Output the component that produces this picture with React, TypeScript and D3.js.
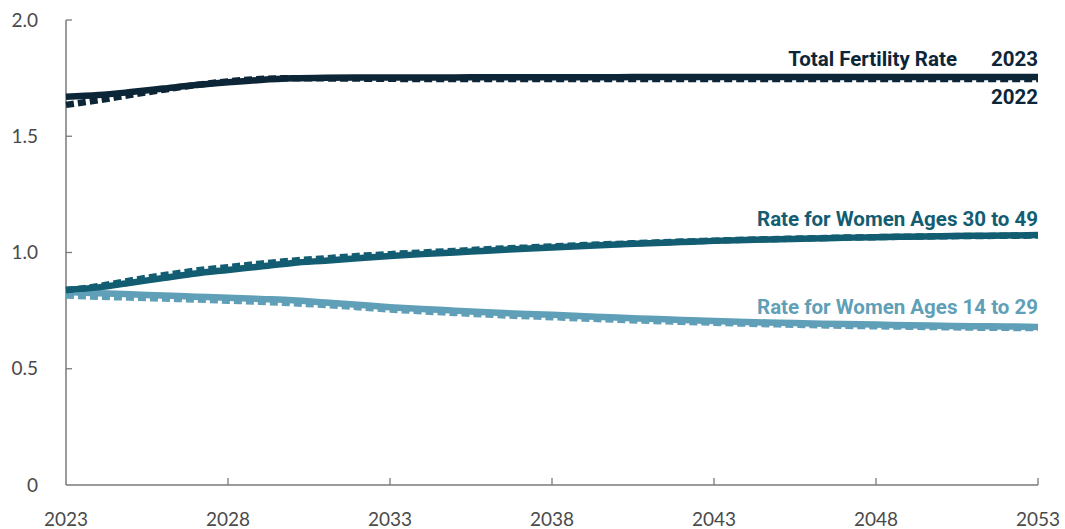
import React from "react";
import * as d3 from "d3";

const years: number[] = d3.range(2023, 2054);

const tfr2023: number[] = [1.67,1.677,1.69,1.705,1.72,1.732,1.742,1.749,1.752,1.753,1.753,1.753,1.753,1.754,1.754,1.754,1.754,1.754,1.755,1.755,1.755,1.755,1.755,1.755,1.755,1.755,1.755,1.755,1.755,1.755,1.755];
const tfr2022: number[] = [1.635,1.655,1.678,1.7,1.72,1.736,1.746,1.75,1.749,1.748,1.747,1.746,1.746,1.746,1.746,1.746,1.746,1.746,1.746,1.746,1.746,1.746,1.746,1.746,1.746,1.746,1.746,1.746,1.746,1.746,1.746];
const older2023: number[] = [0.84,0.85,0.87,0.89,0.91,0.925,0.94,0.955,0.965,0.975,0.985,0.993,1.0,1.008,1.015,1.022,1.028,1.034,1.04,1.045,1.05,1.054,1.057,1.06,1.063,1.066,1.068,1.07,1.072,1.073,1.075];
const older2022: number[] = [0.838,0.855,0.88,0.902,0.922,0.937,0.952,0.965,0.975,0.985,0.993,1.0,1.007,1.014,1.02,1.026,1.032,1.037,1.042,1.047,1.051,1.055,1.058,1.061,1.064,1.066,1.068,1.07,1.071,1.072,1.073];
const younger2023: number[] = [0.83,0.825,0.82,0.815,0.81,0.805,0.8,0.795,0.785,0.775,0.765,0.757,0.75,0.743,0.737,0.732,0.726,0.72,0.715,0.71,0.705,0.701,0.698,0.695,0.692,0.69,0.687,0.685,0.683,0.682,0.68];
const younger2022: number[] = [0.815,0.81,0.806,0.802,0.798,0.793,0.788,0.782,0.774,0.765,0.755,0.747,0.74,0.733,0.727,0.722,0.716,0.711,0.706,0.702,0.698,0.694,0.691,0.688,0.685,0.683,0.681,0.679,0.677,0.676,0.675];

const xTicks: number[] = [2023, 2028, 2033, 2038, 2043, 2048, 2053];
const yTicks: number[] = [0, 0.5, 1.0, 1.5, 2.0];
const yTickLabels: string[] = ["0", "0.5", "1.0", "1.5", "2.0"];

const seriesNames: string[] = ["Total Fertility Rate", "Rate for Women Ages 30 to 49", "Rate for Women Ages 14 to 29"];
const vintageLabels: string[] = ["2023", "2022"];

const W = 1065;
const H = 529;
const left = 66;
const right = 1038;
const top = 20;
const bottom = 485;

const dark = "#0c2638";
const mid = "#135d72";
const light = "#5f9fb7";
const axisColor = "#7a7a7a";
const tickText = "#4a4a4a";

export default function App() {
  const x = d3.scaleLinear().domain([2023, 2053]).range([left, right]);
  const y = d3.scaleLinear().domain([0, 2]).range([bottom, top]);
  const line = d3
    .line<number>()
    .x((_, i) => x(years[i]))
    .y((d) => y(d))
    .curve(d3.curveMonotoneX);

  const series = [
    { solid: younger2023, dashed: younger2022, color: light },
    { solid: older2023, dashed: older2022, color: mid },
    { solid: tfr2023, dashed: tfr2022, color: dark },
  ];

  const lblFont = "'Roboto', sans-serif";
  const tickFont = "'Lato', 'Open Sans', sans-serif";
  const lblSize = 20.5;
  const last = years.length - 1;

  return (
    <div style={{ position: "absolute", left: 0, top: 0 }}>
      <svg width={W} height={H} style={{ display: "block", background: "#fff" }}>
        <line x1={left} x2={left} y1={top} y2={bottom} stroke={axisColor} strokeWidth={1.5} />
        <line x1={left} x2={right} y1={bottom} y2={bottom} stroke={axisColor} strokeWidth={1.5} />
        {yTicks.map((t, i) => (
          <g key={"y" + i}>
            {t > 0 && <line x1={left} x2={left + 6} y1={y(t)} y2={y(t)} stroke={axisColor} strokeWidth={1.3} />}
            <text x={38} y={y(t)} dy="0.35em" textAnchor="end" fontFamily={tickFont} fontSize={19} fill={tickText}>
              {yTickLabels[i]}
            </text>
          </g>
        ))}
        {xTicks.map((t, i) => (
          <g key={"x" + i}>
            {i > 0 && <line x1={x(t)} x2={x(t)} y1={bottom} y2={bottom - 7} stroke={axisColor} strokeWidth={1.3} />}
            <text x={x(t)} y={526} textAnchor="middle" fontFamily={tickFont} fontSize={19} fill={tickText}>
              {String(t)}
            </text>
          </g>
        ))}
        {series.map((s, i) => (
          <g key={"s" + i}>
            <path d={line(s.dashed) || ""} fill="none" stroke={s.color} strokeWidth={6.5} strokeDasharray="8,4" />
            <path d={line(s.solid) || ""} fill="none" stroke={s.color} strokeWidth={6.5} />
          </g>
        ))}
        <text x={957} y={66} textAnchor="end" fontFamily={lblFont} fontWeight={700} fontSize={lblSize} fill={dark}>
          {seriesNames[0]}
        </text>
        <text x={x(years[last])} y={66} textAnchor="end" fontFamily={lblFont} fontWeight={700} fontSize={lblSize} fill={dark}>
          {vintageLabels[0]}
        </text>
        <text x={x(years[last])} y={104} textAnchor="end" fontFamily={lblFont} fontWeight={700} fontSize={lblSize} fill={dark}>
          {vintageLabels[1]}
        </text>
        <text x={x(years[last])} y={226} textAnchor="end" fontFamily={lblFont} fontWeight={700} fontSize={lblSize} fill={mid}>
          {seriesNames[1]}
        </text>
        <text x={x(years[last])} y={314} textAnchor="end" fontFamily={lblFont} fontWeight={700} fontSize={lblSize} fill={light}>
          {seriesNames[2]}
        </text>
      </svg>
    </div>
  );
}
